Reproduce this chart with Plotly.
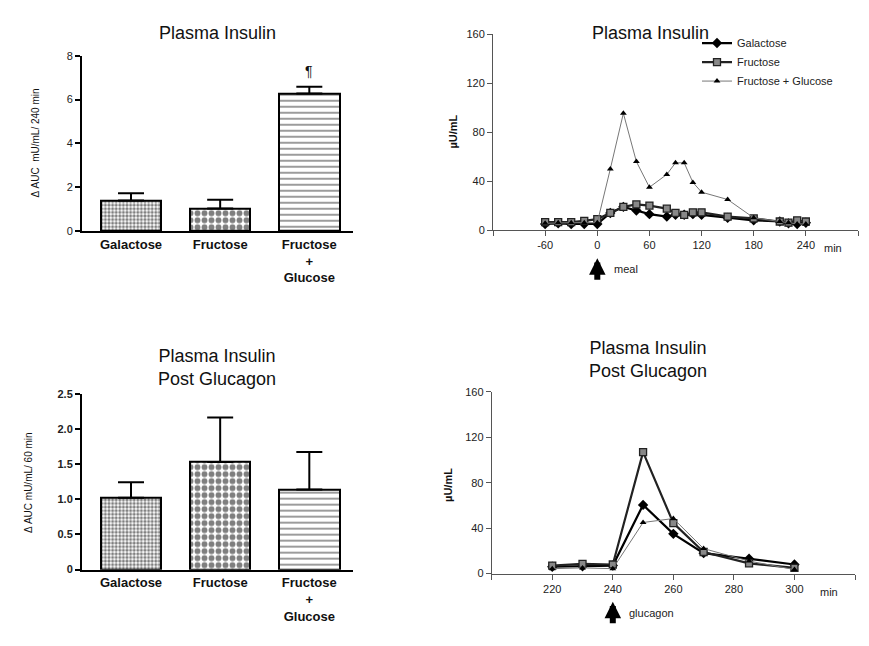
import plotly.graph_objects as go

FONT = "Arial, Liberation Sans, sans-serif"

# ---- Bar data ----
bar_cats = ["Galactose", "Fructose", "Fructose<br>+<br>Glucose"]
auc240 = [1.39, 1.03, 6.28]
auc240_err_top = [1.72, 1.43, 6.58]
auc60 = [1.02, 1.53, 1.14]
auc60_err_top = [1.24, 2.16, 1.67]

# ---- Time course (meal) ----
t_meal = [-60, -45, -30, -15, 0, 15, 30, 45, 60, 80, 90, 100, 110, 120, 150, 180, 210, 220, 230, 240]
gal_meal = [5, 5.5, 5, 5, 5, 14, 19, 16, 13, 11, 12.5, 12.5, 13, 12.5, 10, 8, 7, 5.5, 5, 6]
fru_meal = [6.5, 6.5, 6.5, 7.5, 9, 14, 19, 21, 20, 17.5, 14, 12.5, 14.5, 14.5, 11, 9.5, 7, 6, 8, 7]
fg_meal = [5.5, 6, 6, 6, 6, 50, 95.5, 56, 35, 45.5, 55, 55, 39, 31, 25, 10, 7, 6, 5, 5]

# ---- Time course (glucagon) ----
t_glu = [220, 230, 240, 250, 260, 270, 285, 300]
gal_glu = [6, 6.5, 7, 60.5, 35, 18, 13, 8]
fru_glu = [7, 8.5, 8, 107, 44.5, 19, 9, 5]
fg_glu = [4.3, 5, 4.3, 45, 48.5, 22, 11, 3.5]

W, H = 869, 646
def px(x): return x / W
def py(y): return 1 - y / H

fig = go.Figure()

patterns = [
    dict(shape=".", size=3.6, solidity=0.55, fgcolor="black", bgcolor="white"),
    dict(shape=".", size=7, solidity=0.55, fgcolor="black", bgcolor="white"),
    dict(shape="-", size=6, solidity=0.3, fgcolor="#222", bgcolor="white"),
]

def add_bars(vals, tops, xa, ya):
    for i in range(3):
        fig.add_trace(go.Bar(
            x=[i], y=[vals[i]], width=0.68, xaxis=xa, yaxis=ya, showlegend=False,
            marker=dict(color="white", line=dict(color="black", width=2), pattern=patterns[i]),
            error_y=dict(type="data", symmetric=False, array=[tops[i] - vals[i]], arrayminus=[0],
                         color="black", thickness=2, width=13),
        ))

add_bars(auc240, auc240_err_top, "x", "y")
add_bars(auc60, auc60_err_top, "x3", "y3")

line_styles = [
    ("Galactose", dict(color="black", width=2.2), dict(symbol="diamond", size=8, color="black")),
    ("Fructose", dict(color="#222", width=2.2), dict(symbol="square", size=7, color="#888", line=dict(color="#222", width=1.3))),
    ("Fructose + Glucose", dict(color="#777", width=1), dict(symbol="triangle-up", size=6, color="black")),
]
for (name, ln, mk), ys in zip(line_styles, [gal_meal, fru_meal, fg_meal]):
    fig.add_trace(go.Scatter(x=t_meal, y=ys, name=name, mode="lines+markers", line=ln, marker=mk,
                             xaxis="x2", yaxis="y2"))
for (name, ln, mk), ys in zip(line_styles, [gal_glu, fru_glu, fg_glu]):
    fig.add_trace(go.Scatter(x=t_glu, y=ys, name=name, mode="lines+markers", line=ln, marker=mk,
                             xaxis="x4", yaxis="y4", showlegend=False))

bar_x = dict(range=[-0.55, 2.49], tickmode="array", tickvals=[0, 1, 2], ticktext=bar_cats,
             showline=True, linecolor="black", linewidth=2, ticks="", showgrid=False, zeroline=False,
             tickfont=dict(family=FONT, size=13, color="#111", weight="bold"), fixedrange=True)

layout = dict(
    width=W, height=H, paper_bgcolor="white", plot_bgcolor="white",
    margin=dict(l=0, r=0, t=0, b=0), bargap=0,
    font=dict(family=FONT, color="#111"),
    xaxis=dict(bar_x, domain=[px(82), px(353)], anchor="y"),
    yaxis=dict(domain=[py(229.3), py(50.7)], anchor="x", range=[0, 8], tickvals=[0, 2, 4, 6, 8],
               showline=True, linecolor="black", linewidth=2, ticks="outside", ticklen=5, tickwidth=2,
               tickcolor="black", showgrid=False, zeroline=False,
               tickfont=dict(family=FONT, size=11, color="#222")),
    xaxis3=dict(bar_x, domain=[px(82), px(353)], anchor="y3"),
    yaxis3=dict(domain=[py(574.3), py(395)], anchor="x3", range=[0, 2.5],
                tickvals=[0, 0.5, 1.0, 1.5, 2.0, 2.5], ticktext=["0", "0.5", "1.0", "1.5", "2.0", "2.5"],
                showline=True, linecolor="black", linewidth=2, ticks="outside", ticklen=5, tickwidth=2,
                tickcolor="black", showgrid=False, zeroline=False,
                tickfont=dict(family=FONT, size=11, color="#222", weight="bold")),
    xaxis2=dict(domain=[px(493), px(858)], anchor="y2", range=[-120, 300],
                tickvals=[-120, -60, 0, 60, 120, 180, 240, 300],
                ticktext=["", "-60", "0", "60", "120", "180", "240", ""],
                showline=True, linecolor="#555", linewidth=1, ticks="outside", ticklen=5, tickcolor="#555",
                showgrid=False, zeroline=False, tickfont=dict(family=FONT, size=11, color="#222")),
    yaxis2=dict(domain=[py(228.3), py(29)], anchor="x2", range=[0, 160], tickvals=[0, 40, 80, 120, 160],
                showline=True, linecolor="#555", linewidth=1, ticks="outside", ticklen=5, tickcolor="#555",
                showgrid=False, zeroline=False, tickfont=dict(family=FONT, size=11, color="#222")),
    xaxis4=dict(domain=[px(491.7), px(855)], anchor="y4", range=[200, 320],
                tickvals=[200, 220, 240, 260, 280, 300, 320],
                ticktext=["", "220", "240", "260", "280", "300", ""],
                showline=True, linecolor="#555", linewidth=1, ticks="outside", ticklen=5, tickcolor="#555",
                showgrid=False, zeroline=False, tickfont=dict(family=FONT, size=11, color="#222")),
    yaxis4=dict(domain=[py(578.3), py(393.3)], anchor="x4", range=[0, 160], tickvals=[0, 40, 80, 120, 160],
                showline=True, linecolor="#555", linewidth=1, ticks="outside", ticklen=5, tickcolor="#555",
                showgrid=False, zeroline=False, tickfont=dict(family=FONT, size=11, color="#222")),
    legend=dict(x=px(697), y=py(23), xanchor="left", yanchor="top", bgcolor="rgba(0,0,0,0)",
                font=dict(family=FONT, size=11, color="#222"), itemwidth=30, tracegroupgap=0),
)
fig.update_layout(**layout)

ann = []
def txt(x, y, s, size, **kw):
    d = dict(x=px(x), y=py(y), xref="paper", yref="paper", text=s, showarrow=False,
             xanchor="center", yanchor="middle",
             font=dict(family=FONT, size=size, color=kw.pop("color", "#111")))
    d.update(kw)
    ann.append(d)

# Titles
txt(217, 28, "Plasma Insulin", 18)
txt(650, 28, "Plasma Insulin", 18)
txt(217, 368, "Plasma Insulin<br>Post Glucagon", 18)
txt(648, 360, "Plasma Insulin<br>Post Glucagon", 18)

# Axis titles
txt(35, 140, "Δ AUC  mU/mL/ 240 min", 10, textangle=-90)
txt(29, 485, "Δ AUC mU/mL/ 60 min", 10, textangle=-90)
txt(453, 128, "<b>µU/mL</b>", 11, textangle=-90)
txt(448, 488, "<b>µU/mL</b>", 11, textangle=-90)

# "min" units after last tick label
txt(822, 247, "min", 11, xanchor="left", color="#222")
txt(818, 597, "min", 11, xanchor="left", color="#222")

# significance mark
ann.append(dict(x=2, y=6.85, xref="x", yref="y", text="¶", showarrow=False, yanchor="bottom",
                font=dict(family=FONT, size=14, color="#111")))

# Event arrows
ann.append(dict(x=0, y=py(257), xref="x2", yref="paper", ax=0, ay=23, axref="pixel", ayref="pixel",
                showarrow=True, arrowhead=2, arrowsize=0.55, arrowwidth=6, arrowcolor="black", text=""))
txt(612, 268, "meal", 11, xanchor="left", color="#222")
ann.append(dict(x=240, y=py(607), xref="x4", yref="paper", ax=0, ay=23, axref="pixel", ayref="pixel",
                showarrow=True, arrowhead=2, arrowsize=0.55, arrowwidth=6, arrowcolor="black", text=""))
txt(627, 618, "glucagon", 11, xanchor="left", color="#222")

fig.update_layout(annotations=ann)
fig.write_html("out.html", config={"displayModeBar": False},
               post_script="document.body.style.margin='0px';")
